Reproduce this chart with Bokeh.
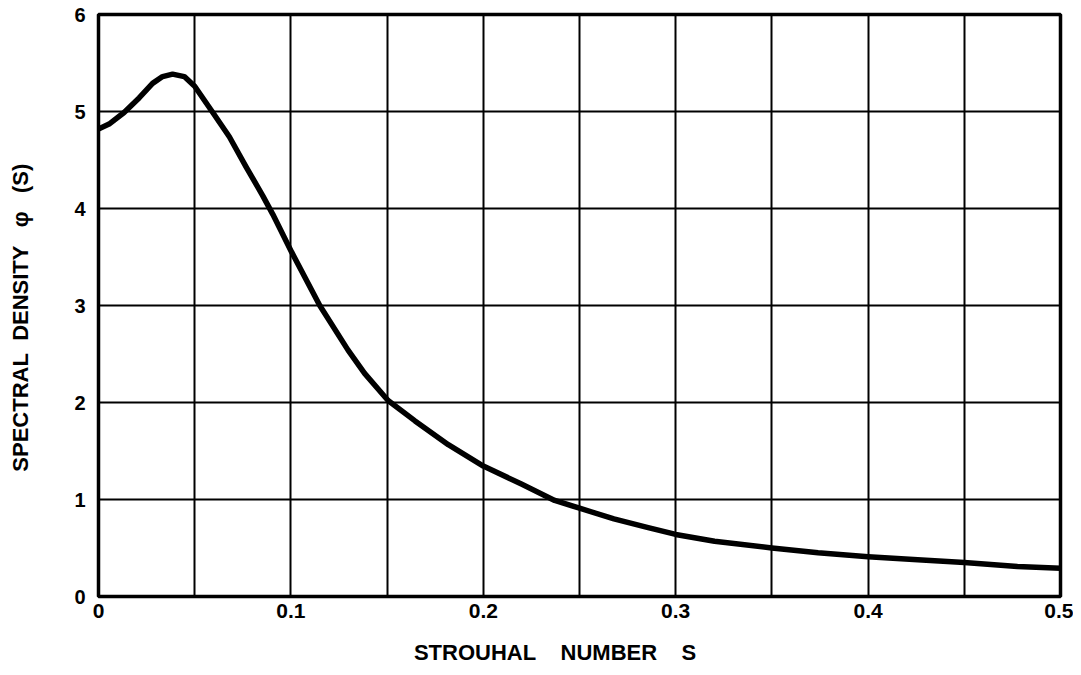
from bokeh.plotting import figure
from bokeh.models import FixedTicker, ColumnDataSource
from bokeh.embed import file_html
from bokeh.resources import INLINE

# Data
strouhal = [0.0, 0.0055, 0.0133, 0.0211, 0.0281, 0.0333, 0.0385, 0.0446, 0.05,
            0.0594, 0.068, 0.0767, 0.0854, 0.0906, 0.1004, 0.115, 0.1297,
            0.1383, 0.1505, 0.1645, 0.1818, 0.2, 0.2198, 0.2371, 0.25, 0.2679,
            0.2857, 0.3, 0.3202, 0.35, 0.374, 0.4, 0.4258, 0.45, 0.4776, 0.5]
density = [4.82, 4.87, 4.99, 5.14, 5.29, 5.36, 5.385, 5.36, 5.26,
           4.99, 4.74, 4.43, 4.13, 3.94, 3.55, 3.00, 2.54,
           2.30, 2.02, 1.81, 1.565, 1.345, 1.16, 0.99, 0.91, 0.80,
           0.71, 0.64, 0.57, 0.50, 0.45, 0.41, 0.38, 0.35, 0.31, 0.29]
x_label_ticks = [0, 0.1, 0.2, 0.3, 0.4, 0.5]
x_grid_ticks = [0, 0.05, 0.1, 0.15, 0.2, 0.25, 0.3, 0.35, 0.4, 0.45, 0.5]
y_ticks = [0, 1, 2, 3, 4, 5, 6]
NB = "\u00a0"
x_title = "STROUHAL" + NB * 4 + "NUMBER" + NB * 4 + "S" + NB * 8
y_title = "SPECTRAL" + NB * 2 + "DENSITY" + NB * 3 + "\u03c6" + NB * 3 + "(S)" + NB * 4

FONT = "Liberation Sans"

p = figure(width=1073, height=675, x_range=(0, 0.5), y_range=(0, 6),
           output_backend="svg", toolbar_location=None,
           min_border_left=98, min_border_right=13, min_border_top=14,
           min_border_bottom=79)
p.background_fill_color = "white"
p.border_fill_color = "white"
p.outline_line_color = "black"
p.outline_line_width = 3.5

src = ColumnDataSource(dict(s=strouhal, v=density))
p.line("s", "v", source=src, line_color="black", line_width=5.5,
       line_join="round", line_cap="round")

p.xaxis.ticker = FixedTicker(ticks=x_label_ticks)
p.yaxis.ticker = FixedTicker(ticks=y_ticks)
p.xgrid.ticker = FixedTicker(ticks=x_grid_ticks)
p.ygrid.ticker = FixedTicker(ticks=y_ticks)
for g in (p.xgrid, p.ygrid):
    g.grid_line_color = "black"
    g.grid_line_width = 2
    g.grid_line_alpha = 1.0

for ax in (p.xaxis, p.yaxis):
    ax.axis_line_color = None
    ax.major_tick_line_color = None
    ax.minor_tick_line_color = None
    ax.major_tick_out = 0
    ax.major_tick_in = 0
    ax.minor_tick_out = 0
    ax.major_label_text_font = FONT
    ax.major_label_text_font_style = "bold"
    ax.major_label_text_color = "black"
    ax.axis_label_text_font = FONT
    ax.axis_label_text_font_style = "bold"
    ax.axis_label_text_font_size = "22px"
    ax.axis_label_text_color = "black"

p.xaxis.major_label_text_font_size = "21px"
p.yaxis.major_label_text_font_size = "20px"
p.xaxis.major_label_standoff = 7
p.xaxis.major_label_overrides = {0: "0", 0.1: "0.1", 0.2: "0.2", 0.3: "0.3",
                                 0.4: "0.4", 0.5: "0.5"}
p.yaxis.major_label_standoff = 13

p.xaxis.axis_label = x_title
p.xaxis.axis_label_standoff = 19
p.yaxis.axis_label = y_title
p.yaxis.axis_label_standoff = 38

open("out.html", "w").write(file_html(p, INLINE))
